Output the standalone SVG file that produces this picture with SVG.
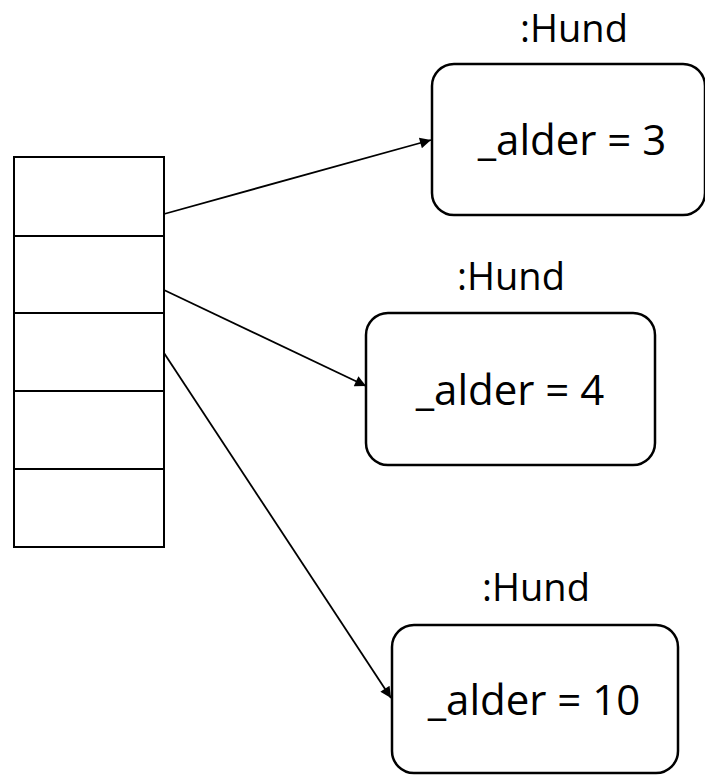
<svg xmlns="http://www.w3.org/2000/svg" width="705" height="775" viewBox="0 0 705 775">
  <style>
    .cell { fill: #fff; stroke: #000; stroke-width: 2; }
    .obj { fill: #fff; stroke: #000; stroke-width: 2.5; }
    .edge { stroke: #000; stroke-width: 1.8; fill: none; }
    .lbl { font-family: "Open Sans", "Liberation Sans", sans-serif; font-size: 38px; fill: #000; text-anchor: middle; }
    .val { font-family: "Open Sans", "Liberation Sans", sans-serif; font-size: 42px; fill: #000; text-anchor: middle; }
  </style>
  <defs>
    <marker id="arrow" viewBox="0 0 10 10" refX="10" refY="5" markerWidth="13" markerHeight="11" markerUnits="userSpaceOnUse" orient="auto">
      <path d="M0,0 L10,5 L0,10 z" fill="#000"/>
    </marker>
  </defs>

  <!-- array of references -->
  <g id="array">
    <rect class="cell" x="14" y="157" width="150" height="79"/>
    <rect class="cell" x="14" y="236" width="150" height="77"/>
    <rect class="cell" x="14" y="313" width="150" height="78"/>
    <rect class="cell" x="14" y="391" width="150" height="78"/>
    <rect class="cell" x="14" y="469" width="150" height="78"/>
  </g>

  <g id="connectors">
    <line class="edge" x1="164" y1="214" x2="431" y2="140" marker-end="url(#arrow)"/>
    <line class="edge" x1="164" y1="290" x2="366" y2="386" marker-end="url(#arrow)"/>
    <line class="edge" x1="164" y1="353" x2="391" y2="698" marker-end="url(#arrow)"/>
  </g>

  <g id="hund1">
    <text class="lbl" x="574" y="42">:Hund</text>
    <rect class="obj" x="432" y="64" width="273" height="151" rx="22"/>
    <text class="val" x="572" y="155">_alder = 3</text>
  </g>

  <g id="hund2">
    <text class="lbl" x="511" y="290">:Hund</text>
    <rect class="obj" x="366" y="313" width="289" height="152" rx="22"/>
    <text class="val" x="510" y="405">_alder = 4</text>
  </g>

  <g id="hund3">
    <text class="lbl" x="536" y="601">:Hund</text>
    <rect class="obj" x="392" y="625" width="286" height="148" rx="22"/>
    <text class="val" x="534" y="715">_alder = 10</text>
  </g>
</svg>
